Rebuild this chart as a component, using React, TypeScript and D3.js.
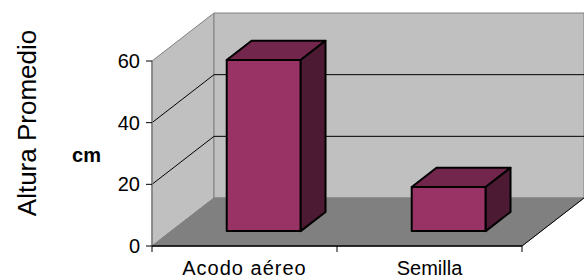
import * as d3 from 'd3';

const categories = ['Acodo aéreo', 'Semilla'];
const values = [55.5, 14.3];
const yTicks = [0, 20, 40, 60];
const yTitle = 'Altura Promedio';
const yUnit = 'cm';

const width = 584;
const height = 280;
// front plane of the plot
const left = 152;
const right = 522;
const bottom = 246;
const top = 61;
// 3d depth offset of the back wall
const depthX = 62;
const depthY = -48;
// where the bars sit inside the depth
const barFront = 0.31;
const barBack = 0.71;

const font = 'Liberation Sans, Arial, sans-serif';

const App = () => {
  const y = d3.scaleLinear().domain([0, 60]).range([bottom, top]);
  const xCat = d3.scaleBand<string>().domain(categories).range([left, right]);
  const xBar = d3.scaleBand<string>()
    .domain(categories)
    .range([left, right])
    .paddingInner(0.6)
    .paddingOuter(0.3);

  // project x / value / depth into screen coords
  const p = (x: number, v: number, z: number): [number, number] => [x + z * depthX, y(v) + z * depthY];
  const poly = (pts: [number, number][]) => pts.map(d => d.join(',')).join(' ');

  const [ymin, ymax] = y.domain();

  const leftWall = poly([p(left, ymax, 0), p(left, ymax, 1), p(left, ymin, 1), p(left, ymin, 0)]);
  const backWall = poly([p(left, ymax, 1), p(right, ymax, 1), p(right, ymin, 1), p(left, ymin, 1)]);
  const floor = poly([p(left, ymin, 0), p(left, ymin, 1), p(right, ymin, 1), p(right, ymin, 0)]);

  const bars = categories.map((c, i) => {
    const x0 = xBar(c)!;
    const x1 = x0 + xBar.bandwidth();
    const v = values[i];
    const front = poly([p(x0, v, barFront), p(x1, v, barFront), p(x1, 0, barFront), p(x0, 0, barFront)]);
    const topFace = poly([p(x0, v, barFront), p(x0, v, barBack), p(x1, v, barBack), p(x1, v, barFront)]);
    const side = poly([p(x1, v, barFront), p(x1, v, barBack), p(x1, 0, barBack), p(x1, 0, barFront)]);
    return { c, front, topFace, side };
  });

  const catTicks = [...categories.map(c => xCat(c)!), right];

  return (
    <svg width={width} height={height} style={{ position: 'absolute', left: 0, top: 0, background: '#fff' }}>
      {/* walls and floor */}
      <polygon points={leftWall} fill="#c0c0c0" stroke="#808080" strokeWidth={1} />
      <polygon points={backWall} fill="#c0c0c0" stroke="#808080" strokeWidth={1} />
      <polygon points={floor} fill="#808080" stroke="#808080" strokeWidth={1} />
      <line x1={p(right, 0, 0)[0]} y1={p(right, 0, 0)[1]} x2={p(right, 0, 1)[0]} y2={p(right, 0, 1)[1]} stroke="#000" strokeWidth={1} />

      {/* gridlines */}
      {yTicks.filter(t => t > ymin && t < ymax).map(t => (
        <polyline
          key={t}
          points={poly([p(left, t, 0), p(left, t, 1), p(right, t, 1)])}
          fill="none"
          stroke="#000"
          strokeWidth={1}
        />
      ))}

      {/* bars */}
      {bars.map(b => (
        <g key={b.c} stroke="#000" strokeWidth={2} strokeLinejoin="round">
          <polygon points={b.front} fill="#993366" />
          <polygon points={b.topFace} fill="#73264c" />
          <polygon points={b.side} fill="#4c1a33" />
        </g>
      ))}

      {/* value axis */}
      <line x1={left} y1={y(ymin)} x2={left} y2={y(ymax)} stroke="#808080" strokeWidth={1.5} />
      {yTicks.map(t => (
        <g key={t}>
          <line x1={left - 6} x2={left} y1={y(t)} y2={y(t)} stroke="#000" strokeWidth={1} />
          <text x={140} y={y(t) + 7} textAnchor="end" fontFamily={font} fontSize={20} fill="#000">{t}</text>
        </g>
      ))}

      {/* category axis */}
      <line x1={left} x2={right} y1={bottom} y2={bottom} stroke="#000" strokeWidth={1.5} />
      {catTicks.map((x, i) => (
        <line key={i} x1={x} x2={x} y1={bottom} y2={bottom + 6} stroke="#000" strokeWidth={1} />
      ))}
      {categories.map((c, i) => (
        <text
          key={c}
          x={xCat(c)! + xCat.bandwidth() / 2}
          y={275}
          textAnchor="middle"
          fontFamily={font}
          fontSize={20}
          letterSpacing={i === 0 ? 1 : 0}
          fill="#000"
        >
          {c}
        </text>
      ))}

      {/* titles */}
      <text transform="translate(36,123) rotate(-90)" textAnchor="middle" fontFamily={font} fontSize={26} fill="#000">{yTitle}</text>
      <text x={86.5} y={162} textAnchor="middle" fontFamily={font} fontSize={20} fontWeight="bold" fill="#000">{yUnit}</text>
    </svg>
  );
};

export default App;
